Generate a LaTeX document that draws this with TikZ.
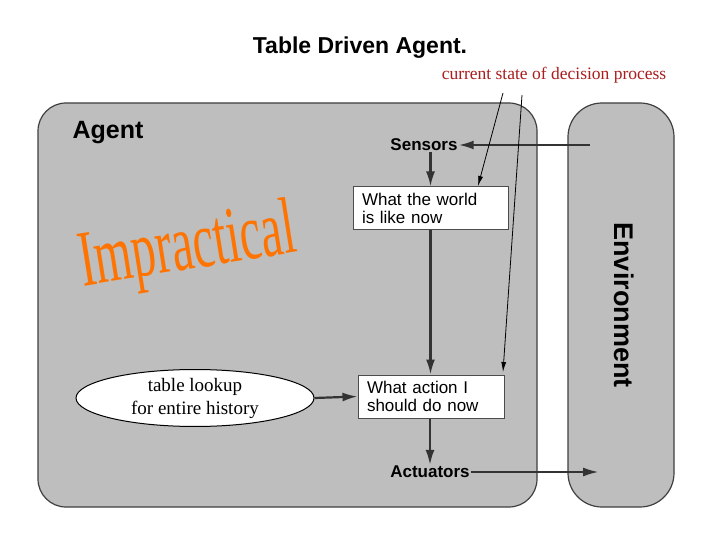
\documentclass[tikz,border=0pt]{standalone}
\usepackage{fontspec}
\setmainfont{Liberation Serif}
\setsansfont{Liberation Sans}
\usetikzlibrary{arrows.meta,shapes.geometric}
\definecolor{panel}{RGB}{190,190,190}
\definecolor{redtxt}{RGB}{170,30,30}
\tikzset{
  panelbox/.style={draw=black!75,line width=1.2pt,fill=panel,rounded corners=28pt},
  wbox/.style={draw=black!70,line width=1pt,fill=white,minimum width=#1,minimum height=43pt,align=left,font=\sffamily\fontsize{17}{18}\selectfont,inner sep=0pt,text width=#1-18pt},
  lbl/.style={font=\sffamily\bfseries\fontsize{17}{17}\selectfont,inner sep=1pt},
  flow/.style={line width=2.2pt,draw=black!80,-{Latex[length=15pt,width=9pt]}},
  thin/.style={line width=0.8pt,-{Latex[length=10pt,width=5pt]}}
}
\begin{document}
\begin{tikzpicture}[x=1pt,y=-1pt]
\useasboundingbox (0,0) rectangle (720,540);
\fill[white] (0,0) rectangle (720,540);
\node[font=\sffamily\bfseries\fontsize{23}{23}\selectfont] (title) at (360,48) {Table Driven Agent.};
\node[text=redtxt,font=\fontsize{17.5}{17.5}\selectfont] (cur) at (554,75) {current state of decision process};
\draw[panelbox] (38,103) rectangle (537,507);
\draw[panelbox,rounded corners=34pt] (568,103) rectangle (674,507);
\node[font=\sffamily\bfseries\fontsize{25}{25}\selectfont] (agent) at (108,133) {Agent};
\node[font=\sffamily\bfseries\fontsize{27}{27}\selectfont,rotate=-90] (env) at (624,305) {Environment};
\node[lbl] (sens) at (424,145) {Sensors};
\node[lbl] (act) at (430,472) {Actuators};
\node[wbox=155pt] (world) at (430.5,208.5) {What the world\\is like now};
\node[wbox=146pt] (action) at (431,396.5) {What action I\\should do now};
\node[draw=black,line width=1pt,fill=white,ellipse,minimum width=238pt,minimum height=56pt,align=center,font=\fontsize{19}{23}\selectfont,inner sep=0pt] (look) at (195,398) {table lookup\\for entire history};
\node[text=orange!90!red,rotate=9,font=\fontsize{80}{80}\selectfont,xscale=0.6,yscale=1.0] (imp) at (188,250) {Impractical};
\coordinate (envin) at (590,145);
\coordinate (envout) at (598,472);
\draw[flow] (envin) -- (sens.east);
\draw[flow] (sens.south -| world.north) -- (world.north);
\draw[flow] (world.south) -- (action.north -| world.south);
\draw[flow] (action.south -| act) -- (act.north);
\draw[flow,line width=1.3pt] (act.east) -- (envout);
\draw[flow] (look.east) -- (action.west);
\coordinate (p1) at (503,93);
\coordinate (p2) at (522,95);
\draw[thin] (p1) -- (478,186);
\draw[thin] (p2) -- (503,372);
\end{tikzpicture}
\end{document}
